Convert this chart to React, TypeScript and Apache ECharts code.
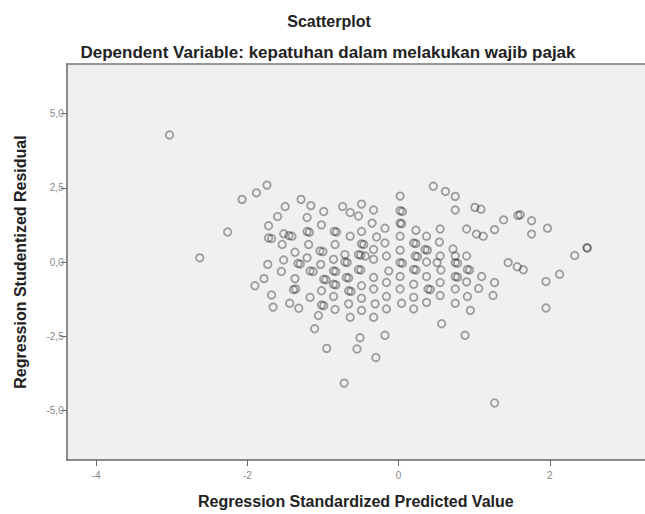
import React, { useEffect, useRef } from "react";
import * as echarts from "echarts";

const chartTitle = "Scatterplot";
const chartSubtitle = "Dependent Variable: kepatuhan dalam melakukan wajib pajak";
const xAxisName = "Regression Standardized Predicted Value";
const yAxisName = "Regression Studentized Residual";

const xTicks = [-4, -2, 0, 2];
const yTicks = [-5, -2.5, 0, 2.5, 5];

// Regression Standardized Predicted Value
const predicted: number[] = [
  -3.03, -2.63, -2.26, -2.07, -1.88, -1.74, -1.5, -1.29, -1.16, -0.99,
  -1.6, -1.72, -1.21, -1.21, -1.18, -1.02, -1.72, -1.68, -1.52, -1.41,
  -1.45, -1.54, -1.37, -1.19, -1.04, -1.0, -1.52, -1.33, -1.3, -1.21,
  -1.17, -1.13, -1.03, -1.73, -1.55, -1.78, -1.37, -0.99, -0.96, -1.9,
  -1.39, -1.36, -1.17, -1.02, -1.68, -1.44, -1.66, -1.32, -1.02, -0.99,
  -1.06, -1.11, -0.95,
  0.46, 0.02, -0.49, -0.74, -0.64, -0.53, -0.33, 0.02, 0.05, 0.04,
  0.02, -0.35, -0.18, 0.23, -0.85, -0.82, -0.64, -0.49, -0.29, -0.18,
  0.02, 0.2, 0.23, 0.37, 0.35, 0.38, -0.84, -0.49, -0.46, -0.33,
  -0.71, -0.53, -0.5, -0.44, -0.16, 0.02, 0.22, 0.25, 0.37, -0.86,
  -0.71, -0.68, -0.53, -0.5, -0.33, -0.13, 0.02, 0.05, 0.2, 0.23,
  0.51, -0.86, -0.83, -0.69, -0.66, -0.33, -0.16, 0.02, 0.37, -0.86,
  -0.83, -0.66, -0.63, -0.49, -0.33, 0.02, 0.2, 0.39, 0.42, -0.86,
  -0.66, -0.49, -0.31, -0.16, 0.04, 0.2, 0.37, -0.84, -0.64, -0.49,
  -0.33, -0.16, 0.2, -0.51, -0.18, -0.55, -0.3, -0.72,
  0.62, 0.75, 0.75, 1.01, 1.09, 1.39, 1.61, 1.58, 1.76, 1.76,
  0.9, 1.03, 1.12, 1.27, 0.55, 0.54, 0.72, 0.75, 0.9, 0.55,
  0.75, 0.78, 0.91, 0.94, 0.56, 0.75, 0.78, 0.9, 0.55, 1.1,
  1.27, 1.06, 0.75, 0.55, 0.91, 1.25, 0.75, 0.95, 0.57, 0.88,
  1.45, 1.57, 1.65, 1.27,
  1.97, 2.49, 2.5, 2.33, 2.13, 1.95, 1.95,
];

// Regression Studentized Residual
const residual: number[] = [
  4.28, 0.14, 1.01, 2.11, 2.33, 2.59, 1.87, 2.11, 1.9, 1.7,
  1.53, 1.22, 1.5, 1.03, 1.0, 1.25, 0.81, 0.79, 0.95, 0.87,
  0.89, 0.59, 0.33, 0.59, 0.37, 0.35, 0.07, -0.05, -0.07, 0.14,
  -0.3, -0.32, -0.08, -0.08, -0.32, -0.56, -0.56, -0.58, -0.6, -0.8,
  -0.93, -0.91, -1.19, -0.97, -1.11, -1.39, -1.52, -1.56, -1.45, -1.47,
  -1.8, -2.25, -2.91,
  2.55, 2.22, 1.95, 1.87, 1.67, 1.55, 1.75, 1.73, 1.7, 1.29,
  1.31, 1.31, 1.14, 1.07, 1.03, 1.01, 0.87, 1.03, 0.84, 0.64,
  0.87, 0.64, 0.62, 0.87, 0.42, 0.4, 0.59, 0.61, 0.59, 0.42,
  0.25, 0.25, 0.23, 0.2, 0.2, 0.4, 0.2, 0.18, 0.0, 0.09,
  0.0, -0.02, -0.25, -0.27, 0.09, -0.3, -0.02, -0.04, -0.25, -0.27,
  -0.02, -0.3, -0.32, -0.52, -0.54, -0.52, -0.69, -0.49, -0.49, -0.75,
  -0.77, -0.97, -0.99, -0.8, -0.91, -0.91, -0.75, -0.91, -0.93, -1.16,
  -1.41, -1.22, -1.41, -1.16, -1.39, -1.19, -1.36, -1.6, -1.86, -1.63,
  -1.86, -1.58, -1.58, -2.55, -2.47, -2.93, -3.22, -4.08,
  2.38, 2.21, 1.75, 1.84, 1.78, 1.42, 1.59, 1.57, 1.39, 0.94,
  1.11, 0.94, 0.87, 1.09, 1.11, 0.67, 0.44, 0.2, 0.2, 0.2,
  -0.02, -0.04, -0.25, -0.27, -0.27, -0.49, -0.51, -0.67, -0.69, -0.49,
  -0.69, -0.89, -0.91, -1.13, -1.16, -1.13, -1.39, -1.63, -2.08, -2.47,
  -0.02, -0.16, -0.26, -4.75,
  1.14, 0.48, 0.47, 0.22, -0.41, -0.66, -1.55,
];

const FONT = 'Arial, "Liberation Sans", sans-serif';
const X_MIN = -4.39;
const X_MAX = 3.26;

export default function App() {
  const ref = useRef<HTMLDivElement>(null);

  useEffect(() => {
    if (!ref.current) return;
    const chart = echarts.init(ref.current, undefined, { renderer: "svg" });
    const n = Math.min(predicted.length, residual.length);
    const points: number[][] = [];
    for (let i = 0; i < n; i++) points.push([predicted[i], residual[i]]);

    chart.setOption({
      animation: false,
      backgroundColor: "#ffffff",
      textStyle: { fontFamily: FONT },
      graphic: [
        {
          type: "text",
          x: 329,
          y: 21,
          style: {
            text: chartTitle,
            fontFamily: FONT,
            fontWeight: "bold",
            fontSize: 16,
            fill: "#222",
            align: "center",
            verticalAlign: "middle",
          },
        },
        {
          type: "text",
          x: 328,
          y: 52,
          style: {
            text: chartSubtitle,
            fontFamily: FONT,
            fontWeight: "bold",
            fontSize: 17,
            fill: "#222",
            align: "center",
            verticalAlign: "middle",
          },
        },
      ],
      grid: {
        left: 66.7,
        top: 64,
        right: 0,
        bottom: 50,
        show: true,
        backgroundColor: "#f0f0f0",
        borderWidth: 0,
      },
      xAxis: [
        {
          type: "value",
          min: X_MIN,
          max: X_MAX,
          name: xAxisName,
          nameLocation: "middle",
          nameGap: 33,
          nameTextStyle: {
            fontFamily: FONT,
            fontWeight: "bold",
            fontSize: 16,
            color: "#222",
          },
          axisLine: { show: true, onZero: false, lineStyle: { color: "#666", width: 1.5 } },
          axisTick: { show: true, length: 6, customValues: xTicks, lineStyle: { color: "#666" } },
          axisLabel: {
            customValues: xTicks,
            color: "#888",
            fontSize: 10,
            margin: 10,
            formatter: (v: number) => String(v),
          },
          splitLine: { show: false },
        },
        {
          type: "value",
          position: "top",
          min: X_MIN,
          max: X_MAX,
          axisLine: { show: true, onZero: false, lineStyle: { color: "#777", width: 1.5 } },
          axisTick: { show: false },
          axisLabel: { show: false },
          splitLine: { show: false },
        },
      ],
      yAxis: {
        type: "value",
        min: -6.67,
        max: 6.67,
        name: yAxisName,
        nameLocation: "middle",
        nameGap: 38,
        nameTextStyle: {
          fontFamily: FONT,
          fontWeight: "bold",
          fontSize: 16,
          color: "#222",
        },
        axisLine: { show: true, onZero: false, lineStyle: { color: "#666", width: 1.5 } },
        axisTick: { show: true, length: 6, customValues: yTicks, lineStyle: { color: "#666" } },
        axisLabel: {
          customValues: yTicks,
          color: "#888",
          fontSize: 10,
          margin: 3,
          formatter: (v: number) => v.toFixed(1).replace(".", ","),
        },
        splitLine: { show: false },
      },
      series: [
        {
          type: "scatter",
          xAxisIndex: 0,
          data: points,
          symbol: "circle",
          symbolSize: 7.5,
          itemStyle: {
            color: "rgba(0,0,0,0)",
            borderColor: "rgba(30,30,30,0.5)",
            borderWidth: 1.8,
          },
          emphasis: { disabled: true },
        },
      ],
    });
    return () => chart.dispose();
  }, []);

  return (
    <div
      ref={ref}
      style={{ position: "fixed", left: 0, top: 0, width: 645, height: 514 }}
    />
  );
}
